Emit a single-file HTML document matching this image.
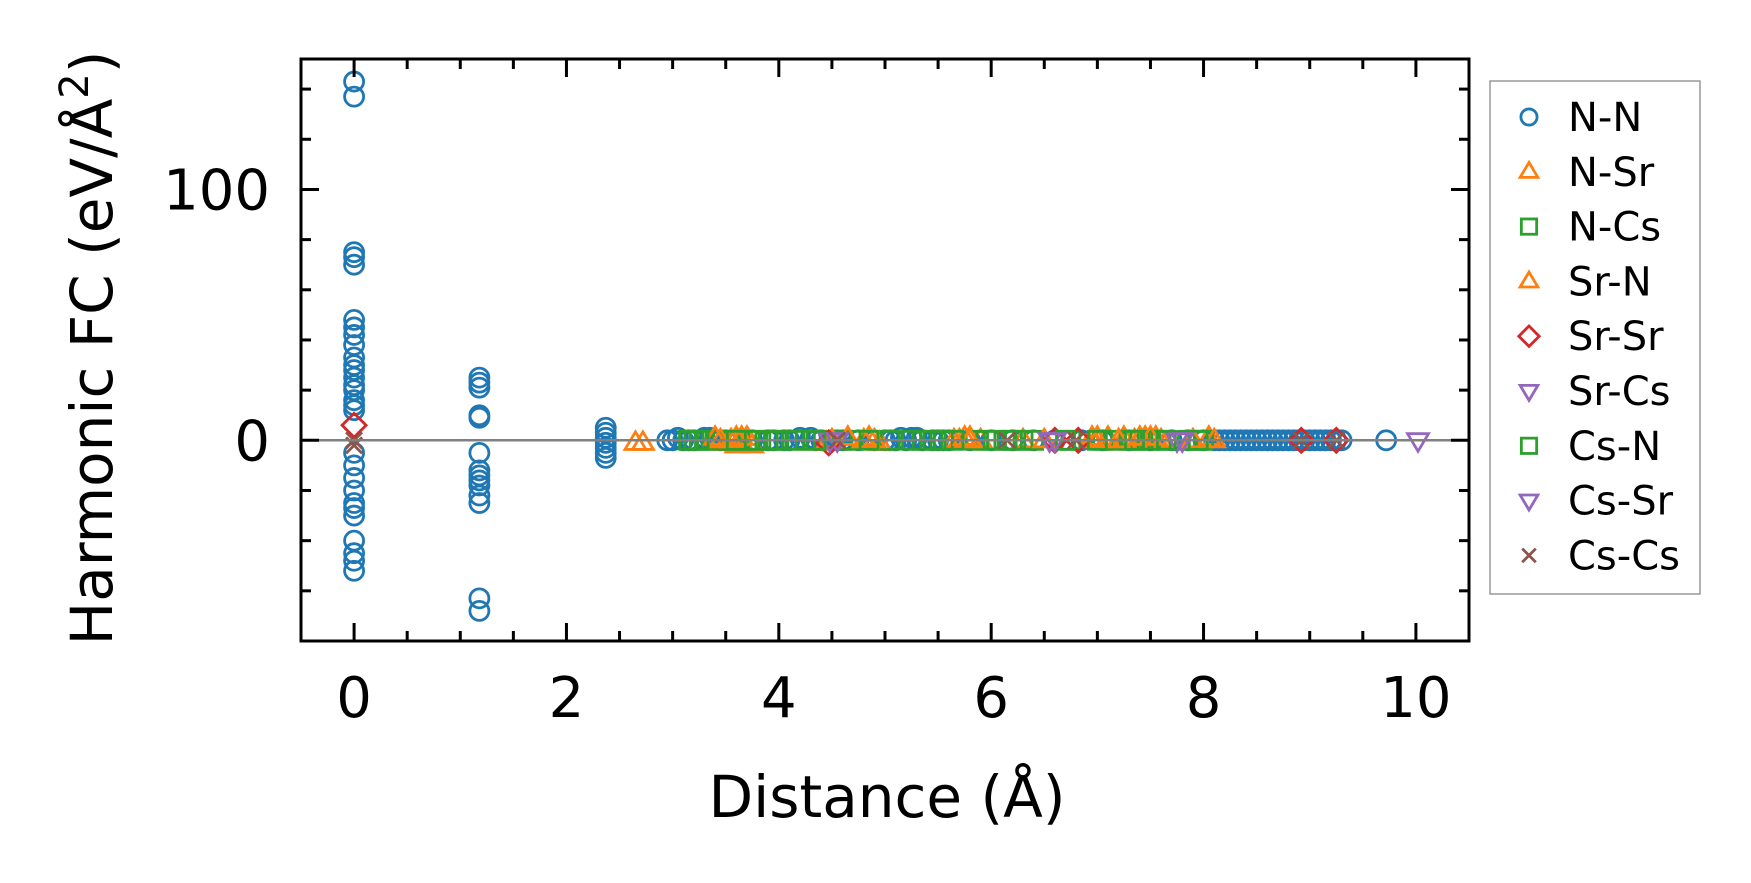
<!DOCTYPE html>
<html><head><meta charset="utf-8"><style>
html,body{margin:0;padding:0;background:#fff;}
svg{display:block;font-family:"DejaVu Sans","Liberation Sans",sans-serif;}
</style></head><body>
<svg id="chart" width="1751" height="883" viewBox="0 0 1751 883" xmlns="http://www.w3.org/2000/svg">
<rect width="1751" height="883" fill="#fff"/>
<g id="plot"></g>
<g id="axes"></g>
<text x="887" y="817" font-size="58" text-anchor="middle">Distance (Å)</text>
<text transform="translate(112,348) rotate(-90)" font-size="58" text-anchor="middle">Harmonic FC (eV/Å<tspan font-size="40" dy="-24">2</tspan><tspan dy="24">)</tspan></text>
<g id="legend"></g>
</svg>
<script>
const xTicks=[0,2,4,6,8,10];
const yTicks=[0,100];
const nnX=[0,0,0,0,0,0,0,0,0,0,0,0,0,0,0,0,0,0,0,0,0,0,0,0,0,0,0,0,0,
1.18,1.18,1.18,1.18,1.18,1.18,1.18,1.18,1.18,1.18,1.18,1.18,1.18,1.18,
2.37,2.37,2.37,2.37,2.37,2.37,2.37,
2.95,3.05,3.1,3.2,3.3,3.45,3.6,3.75,3.9,4.05,4.2,4.35,4.5,4.6,4.75,4.9,5.0,5.15,5.2,5.3,5.45,5.6,5.8,6.0,6.2,6.4,6.6,6.85,7.05,7.3,7.5,7.7,7.85,8.0,8.1,8.2,8.3,8.4,8.5,8.6,8.7,8.8,8.9,9.0,9.1,9.2,9.3,9.72,
3.0,3.15,3.35,3.5,3.95,4.1,4.3,4.4,4.55,5.05,5.1,5.25,5.35,5.5,5.55,8.15,8.25,8.35,8.45,8.55,8.65,8.75,8.85,8.95,9.05,9.15,9.25];
const nnY=[143,137,75,73,70,48,45,42,38,33,30,28,25,22,20,16,14,12,-5,-10,-15,-20,-25,-27,-30,-40,-45,-48,-52,
25,23,21,10,9,-5,-12,-14,-16,-18,-22,-25,-63,-68,
5,3,1,-1,-3,-5,-7,
0,1,0,0,1,0,0,0,0,0,1,0,0,0,0,0,0,1,0,1,0,0,0,0,0,0,0,0,0,0,0,0,0,0,0,0,0,0,0,0,0,0,0,0,0,0,0,0,
0,0,1,0,0,0,1,0,0,0,0,1,0,0,0,0,0,0,0,0,0,0,0,0,0,0,0];
const nsrX=[2.65,2.72,3.5,3.6,3.7,3.75,4.45,4.85,4.95,5.65,5.8,6.3,7.1,7.25,7.35,7.45,7.6,8.05,3.55,3.65,5.7,5.9,6.95,7.0,7.2,7.4,7.55];
const nsrY=[-1,-1,-1,-2,1,-2,-1,1,-1,0,1,0,1,1,0,1,0,1,0,-1,0,0,0,1,0,0,1];
const ncsX=[3.15,3.3,3.55,3.8,4.0,4.25,4.6,5.05,5.35,5.55,5.85,6.05,6.3,6.75,7.05,7.3,7.5,7.85,8.0,3.2,3.4,3.7,3.9,4.15,4.7,5.45,5.95,6.2,6.4,7.15,7.4,7.6,7.95];
const ncsY=[0,0,0,0,0,0,0,0,0,0,0,0,0,0,0,0,0,0,0,0,0,0,0,0,0,0,0,0,0,0,0,0,0];
const srnX=[3.4,3.55,3.65,4.5,4.65,4.8,5.75,6.5,6.95,7.2,7.4,7.9,3.45,3.6,4.9,5.8,7.0,7.5,8.1];
const srnY=[1,0,1,0,1,0,1,0,1,0,1,0,0,1,0,0,0,1,0];
const srsrX=[0,4.47,6.6,6.82,8.92,9.25];
const srsrY=[6,-1,0,0,0,0];
const srcsX=[4.48,6.55,7.75,10.02];
const srcsY=[0,0,0,0];
const csnX=[3.25,3.6,3.95,4.35,4.85,5.25,5.65,6.15,6.7,7.0,7.35,7.65,7.95];
const csnY=[0,0,0,0,0,0,0,0,0,0,0,0,0];
const cssrX=[4.55,6.6,7.8];
const cssrY=[0,0,0];
const cscsX=[0,0,4.55,6.15,6.8,8.92,9.25];
const cscsY=[0,-2,0,0,0,0,0];

const L=301,R=1469,T=59,B=641;
const xMin=-0.5,xMax=10.5,yMin=-80,yMax=152;
function sx(v){return L+(v-xMin)/(xMax-xMin)*(R-L);}
function sy(v){return B-(v-yMin)/(yMax-yMin)*(B-T);}
const NS="http://www.w3.org/2000/svg";
function mk(tag,attrs,parent){const e=document.createElementNS(NS,tag);for(const k in attrs)e.setAttribute(k,attrs[k]);parent.appendChild(e);return e;}
const plot=document.getElementById('plot'),axes=document.getElementById('axes'),leg=document.getElementById('legend');
const SW=2.8;
function marker(type,cx,cy,color,parent,sc){
  sc=sc||1;const r=11*sc;let e;
  if(type==='o')e=mk('circle',{cx:cx,cy:cy,r:9.5*sc,fill:'none',stroke:color,'stroke-width':SW},parent);
  else if(type==='^')e=mk('polygon',{points:`${cx},${cy-r} ${cx+r*0.95},${cy+r*0.6} ${cx-r*0.95},${cy+r*0.6}`,fill:'none',stroke:color,'stroke-width':SW},parent);
  else if(type==='v')e=mk('polygon',{points:`${cx},${cy+r} ${cx+r*0.95},${cy-r*0.6} ${cx-r*0.95},${cy-r*0.6}`,fill:'none',stroke:color,'stroke-width':SW},parent);
  else if(type==='s')e=mk('rect',{x:cx-9*sc,y:cy-9*sc,width:18*sc,height:18*sc,fill:'none',stroke:color,'stroke-width':SW},parent);
  else if(type==='D')e=mk('polygon',{points:`${cx},${cy-12*sc} ${cx+12*sc},${cy} ${cx},${cy+12*sc} ${cx-12*sc},${cy}`,fill:'none',stroke:color,'stroke-width':SW},parent);
  else {const d=8*sc;e=mk('path',{d:`M${cx-d},${cy-d}L${cx+d},${cy+d}M${cx-d},${cy+d}L${cx+d},${cy-d}`,fill:'none',stroke:color,'stroke-width':SW},parent);}
  return e;
}
const series=[
 {name:'N-N',type:'o',color:'#1f77b4',x:nnX,y:nnY},
 {name:'N-Sr',type:'^',color:'#ff7f0e',x:nsrX,y:nsrY},
 {name:'N-Cs',type:'s',color:'#2ca02c',x:ncsX,y:ncsY},
 {name:'Sr-N',type:'^',color:'#ff7f0e',x:srnX,y:srnY},
 {name:'Sr-Sr',type:'D',color:'#d62728',x:srsrX,y:srsrY},
 {name:'Sr-Cs',type:'v',color:'#9467bd',x:srcsX,y:srcsY},
 {name:'Cs-N',type:'s',color:'#2ca02c',x:csnX,y:csnY},
 {name:'Cs-Sr',type:'v',color:'#9467bd',x:cssrX,y:cssrY},
 {name:'Cs-Cs',type:'x',color:'#8c564b',x:cscsX,y:cscsY}
];
series.forEach(s=>{
  const g=mk('g',{},plot);
  
  
  s.x.forEach((xv,i)=>{
    const m=marker(s.type,sx(xv),sy(s.y[i]),s.color,g);
    
    
  });
});
const zl=mk('line',{x1:L,x2:R,y1:sy(0),y2:sy(0),stroke:'#808080','stroke-width':2.5},plot);


for(let v=-0.5;v<=10.5001;v+=0.5){
  const major=Math.abs(v-Math.round(v/2)*2)<1e-6;const len=major?18:10;const x=sx(v);
  mk('line',{x1:x,x2:x,y1:B,y2:B-len,stroke:'#000','stroke-width':3},axes);
  mk('line',{x1:x,x2:x,y1:T,y2:T+len,stroke:'#000','stroke-width':3},axes);
}
for(let v=-80;v<=152;v+=20){
  const major=v%100===0;const len=major?18:10;const y=sy(v);
  mk('line',{x1:L,x2:L+len,y1:y,y2:y,stroke:'#000','stroke-width':3},axes);
  mk('line',{x1:R,x2:R-len,y1:y,y2:y,stroke:'#000','stroke-width':3},axes);
}
xTicks.forEach(v=>{
  const t=mk('text',{x:sx(v),y:717,'font-size':56,'text-anchor':'middle'},axes);t.textContent=v;
  
  
});
yTicks.forEach(v=>{
  const t=mk('text',{x:270,y:sy(v)+20,'font-size':56,'text-anchor':'end'},axes);t.textContent=v;
  
  
});
const fr=mk('rect',{x:L,y:T,width:R-L,height:B-T,fill:'none',stroke:'#000','stroke-width':3},axes);


const lb=mk('rect',{x:1490,y:81,width:210,height:513,fill:'#fff',stroke:'#999','stroke-width':1.5},leg);


series.forEach((s,i)=>{
  const y=117+i*54.8;
  const g=mk('g',{},leg);
  
  
  marker(s.type,1529,y,s.color,g,0.85);
  const t=mk('text',{x:1568,y:y+14,'font-size':40},g);t.textContent=s.name;
});
</script>
</body></html>
